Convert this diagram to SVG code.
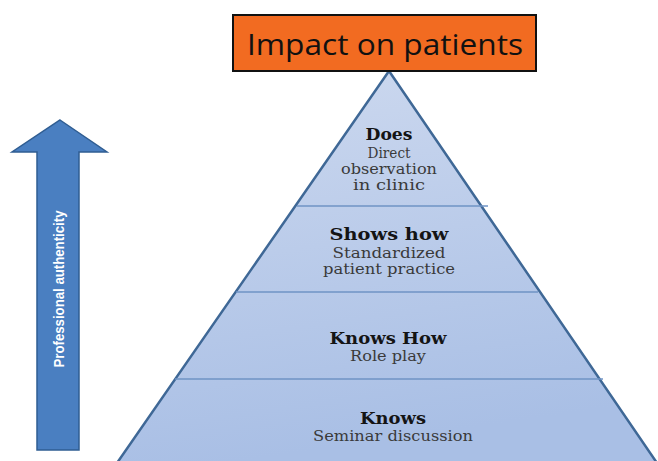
<svg xmlns="http://www.w3.org/2000/svg" width="658" height="461" viewBox="0 0 658 461">
<defs>
<linearGradient id="pg" x1="0" y1="0" x2="0.2" y2="1">
<stop offset="0" stop-color="#cdd9ef"/>
<stop offset="1" stop-color="#a9bfe5"/>
</linearGradient>
<style>
.t{font-family:"DejaVu Serif","Liberation Serif",serif;font-weight:bold;font-size:16.5px;fill:#141414;text-anchor:middle}
.s{font-family:"DejaVu Serif","Liberation Serif",serif;font-size:14px;fill:#3a3a3a;text-anchor:middle}
.div{stroke:#6f93c4;stroke-width:1.5;fill:none}
</style>
</defs>
<rect width="658" height="461" fill="#ffffff"/>
<g id="pyramid">
<polygon points="389,71 117,463 657,463" fill="url(#pg)" stroke="#3f6896" stroke-width="2.5" stroke-linejoin="miter"/>
</g>
<g id="connectors">
<line class="div" x1="297" y1="206" x2="488" y2="206"/>
<line class="div" x1="236" y1="292" x2="538" y2="292"/>
<line class="div" x1="175" y1="379" x2="603" y2="379"/>
</g>
<g id="node-does">
<text class="t" x="389" y="140" textLength="47" lengthAdjust="spacingAndGlyphs">Does</text>
<text class="s" x="389" y="158" textLength="43" lengthAdjust="spacingAndGlyphs">Direct</text>
<text class="s" x="389" y="174" textLength="96" lengthAdjust="spacingAndGlyphs">observation</text>
<text class="s" x="389" y="190" textLength="72" lengthAdjust="spacingAndGlyphs">in clinic</text>
</g>
<g id="node-shows">
<text class="t" x="389" y="240" textLength="119" lengthAdjust="spacingAndGlyphs">Shows how</text>
<text class="s" x="389" y="258" textLength="113" lengthAdjust="spacingAndGlyphs">Standardized</text>
<text class="s" x="389" y="274" textLength="132" lengthAdjust="spacingAndGlyphs">patient practice</text>
</g>
<g id="node-knowshow">
<text class="t" x="388" y="344" textLength="117" lengthAdjust="spacingAndGlyphs">Knows How</text>
<text class="s" x="388" y="361" textLength="76" lengthAdjust="spacingAndGlyphs">Role play</text>
</g>
<g id="node-knows">
<text class="t" x="393" y="424" textLength="66" lengthAdjust="spacingAndGlyphs">Knows</text>
<text class="s" x="393" y="441" textLength="160" lengthAdjust="spacingAndGlyphs">Seminar discussion</text>
</g>
<g id="node-impact">
<rect x="233" y="15" width="303" height="56" fill="#f26b21" stroke="#111" stroke-width="2"/>
<text x="385" y="55" font-family="'Open Sans','Liberation Sans',sans-serif" font-size="29" fill="#111" text-anchor="middle" textLength="276" lengthAdjust="spacingAndGlyphs">Impact on patients</text>
</g>
<g id="node-arrow">
<polygon points="60,120 107,152 79,152 79,450 37,450 37,152 12,152" fill="#4a7fc1" stroke="#2f5d92" stroke-width="1.5" stroke-linejoin="miter"/>
<text transform="translate(64,289) rotate(-90)" font-family="'Liberation Sans Narrow','Liberation Sans',sans-serif" font-weight="bold" font-size="15" fill="#ffffff" text-anchor="middle" textLength="157" lengthAdjust="spacingAndGlyphs">Professional authenticity</text>
</g>
</svg>
